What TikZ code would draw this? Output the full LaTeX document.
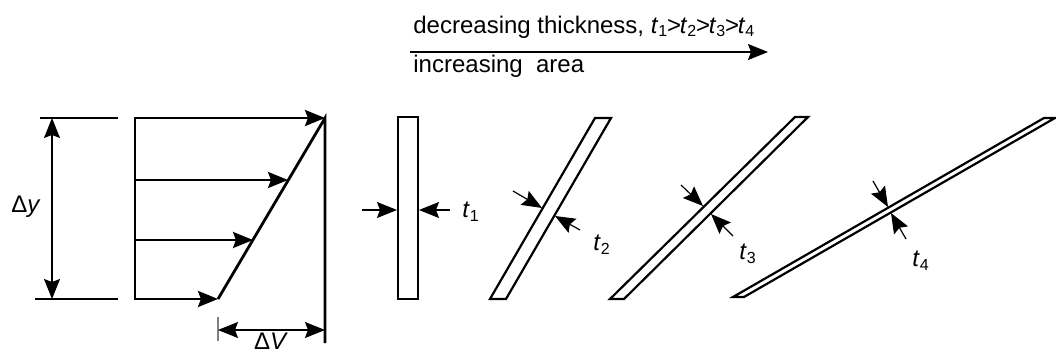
\documentclass[tikz,border=0pt]{standalone}
\usepackage{fontspec}
\setmainfont{Liberation Sans}
\usetikzlibrary{arrows.meta}
\tikzset{
  dim/.style={line width=0.6pt},
  profile/.style={line width=1.4pt},
  strip/.style={line width=1.1pt, line join=miter},
  lbl/.style={font=\fontsize{12}{14}\selectfont, inner sep=0pt}
}
\newcommand{\thk}[1]{\textit{t}\textsubscript{#1}}
\newcommand{\gtr}{\kern-0.6pt>\kern-0.6pt}
\begin{document}
\begin{tikzpicture}[x=0.5pt,y=-0.5pt,>={Stealth[length=10pt,width=8pt,inset=1.5pt]}]
\useasboundingbox (0,0) rectangle (1056,354);
% trend arrow
\coordinate (trendA) at (410,52);
\coordinate (trendB) at (768,52);
\draw[dim,->] (trendA) -- (trendB);
\node[lbl,anchor=base west] (dec) at (413,33) {decreasing thickness, \thk1\gtr\thk2\gtr\thk3\gtr\thk4};
\node[lbl,anchor=base west] (inc) at (413,72) {increasing\ \ area};
% velocity profile
\draw[dim] (40,118) -- (118,118);
\draw[dim] (35,299) -- (118,299);
\draw[dim,<->] (52,118) -- (52,299);
\node[lbl] (dy) at (26,207) {Δ\textit{y}};
\draw[profile] (135,117) -- (135,300);
\draw[profile,->] (135,118) -- (325,118);
\draw[profile,->] (135,180) -- (288,180);
\draw[profile,->] (135,240) -- (253,240);
\draw[profile,->] (135,299) -- (218,299);
\draw[profile] (218,299) -- (325,118) -- (325,343);
\draw[dim,gray] (218,317) -- (218,341);
\draw[dim,<->] (218,330) -- (325,330);
\node[lbl,anchor=base] (dv) at (271,349) {Δ\textit{V}};
% strip 1
\draw[strip] (398,117) rectangle (418,299);
\draw[dim,->] (362,210) -- (397,210);
\draw[dim,->] (450,210) -- (419,210);
\node[lbl] (t1) at (471,212) {\thk1};
% strip 2
\draw[strip] (490,299) -- (506,299) -- (611,118) -- (595,118) -- cycle;
\draw[dim,->] (513,191) -- (542,208);
\draw[dim,->] (580,230) -- (555,216);
\node[lbl] (t2) at (602,245) {\thk2};
% strip 3
\draw[strip] (610,299) -- (624,299) -- (808,117) -- (795,117) -- cycle;
\draw[dim,->] (681,185) -- (703,206);
\draw[dim,->] (733,236) -- (711,214);
\node[lbl] (t3) at (748,254) {\thk3};
% strip 4
\draw[strip] (733,297) -- (744,297) -- (1055,118) -- (1044,118) -- cycle;
\draw[dim,->] (873,181) -- (888,207);
\draw[dim,->] (906,239) -- (891,213);
\node[lbl] (t4) at (921,261) {\thk4};
\end{tikzpicture}
\end{document}
